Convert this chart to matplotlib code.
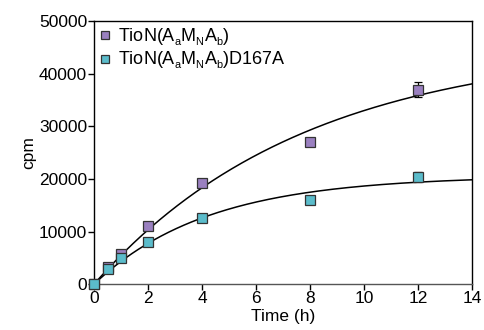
import numpy as np
import matplotlib
matplotlib.use("Agg")
import matplotlib.pyplot as plt
import matplotlib._mathtext as mt

plt.rcParams['font.family'] = ['Liberation Sans', 'DejaVu Sans']
plt.rcParams['mathtext.fontset'] = 'custom'
plt.rcParams['mathtext.rm'] = 'Liberation Sans'
plt.rcParams['mathtext.it'] = 'Liberation Sans'
# smaller, lower subscripts like the original figure
mt.SHRINK_FACTOR = 0.6
mt.FontConstantsBase.sub1 = 0.45

time_h = [0, 0.5, 1, 2, 4, 8, 12]
wt_cpm = [0, 3300, 5800, 11000, 19200, 27000, 37000]
wt_err = [300, 400, 500, 500, 500, 700, 1500]
mut_cpm = [0, 2800, 5000, 8000, 12600, 16000, 20400]
mut_err = [300, 400, 500, 500, 500, 700, 900]

labels = [r'TioN(A$_\mathregular{a}$M$_\mathregular{N}$A$_\mathregular{b}$)',
          r'TioN(A$_\mathregular{a}$M$_\mathregular{N}$A$_\mathregular{b}$)D167A']
colors = ['#9a80c0', '#5bbccb']


def fit_exp(x, y):
    # one-phase association Y = Ymax*(1-exp(-k x)), grid over k
    x = np.asarray(x, float)
    y = np.asarray(y, float)
    best = None
    for k in np.linspace(0.01, 1.0, 2000):
        f = 1 - np.exp(-k * x)
        ymax = (f @ y) / (f @ f)
        r = np.sum((y - ymax * f) ** 2)
        if best is None or r < best[0]:
            best = (r, ymax, k)
    return best[1], best[2]


fig = plt.figure(figsize=(4.85, 3.3), dpi=100)
ax = fig.add_axes([0.194, 0.139, 0.779, 0.797])

xx = np.linspace(0, 14, 300)
for ys, es, c, lab in [(wt_cpm, wt_err, colors[0], labels[0]),
                       (mut_cpm, mut_err, colors[1], labels[1])]:
    ymax, k = fit_exp(time_h, ys)
    ax.plot(xx, ymax * (1 - np.exp(-k * xx)), color='black', lw=1.1, zorder=2)
    eb = ax.errorbar(time_h, ys, yerr=es, fmt='s', ms=7.5, mfc=c, mec='#333333',
                     mew=0.9, ecolor='black', elinewidth=0.9, capsize=3,
                     capthick=0.9, label=lab, zorder=3)
    for art in eb.lines[0:1] + tuple(eb.lines[1]) + tuple(eb.lines[2]):
        art.set_clip_on(False)

ax.set_xlim(0, 14)
ax.set_ylim(0, 50000)
ax.set_xticks(range(0, 15, 2))
ax.set_yticks(range(0, 50001, 10000))
ax.tick_params(labelsize=12.5, length=4, width=1, direction='out', pad=1)
for s in ax.spines.values():
    s.set_linewidth(1)
ax.spines['bottom'].set_color('#555555')
ax.set_xlabel('Time (h)', fontsize=12.5, labelpad=2)
ax.set_ylabel('cpm', fontsize=12.5, labelpad=2)

h, l = ax.get_legend_handles_labels()
h = [hh[0] for hh in h]
ax.legend(h, l, loc='upper left', frameon=False, fontsize=13,
          handlelength=0.6, handletextpad=0.4, borderaxespad=0.1,
          labelspacing=0.1, borderpad=0.2, markerscale=0.85)

fig.savefig('out.png', dpi=100)
